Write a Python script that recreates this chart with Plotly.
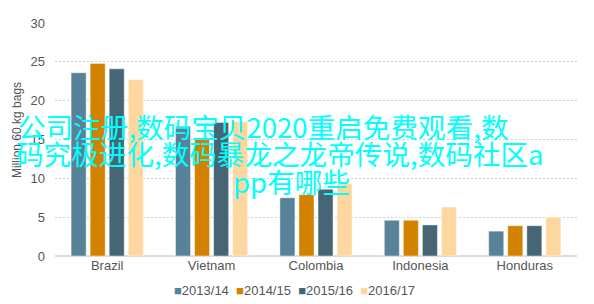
import plotly.graph_objects as go

categories = ["Brazil", "Vietnam", "Colombia", "Indonesia", "Honduras"]
series_names = ["2013/14", "2014/15", "2015/16", "2016/17"]
v_2013 = [23.6, 16.7, 7.5, 4.6, 3.2]
v_2014 = [24.8, 15.0, 7.9, 4.6, 3.9]
v_2015 = [24.1, 17.2, 8.6, 4.0, 3.9]
v_2016 = [22.7, 17.3, 9.3, 6.3, 5.0]
series_values = [v_2013, v_2014, v_2015, v_2016]
colors = ["#58829a", "#d38200", "#466575", "#fed7a0"]
y_ticks = [0, 5, 10, 15, 20, 25, 30]
y_title = "Million 60 kg bags"
overlay_lines = [
    "公司注册,数码宝贝2020重启免费观看,数",
    "码究极进化,数码暴龙之龙帝传说,数码社区a",
    "pp有哪些",
]

W, H = 594, 304
ML, MR, MT, MB = 55, 17, 23, 48

fig = go.Figure()
for name, vals, col in zip(series_names, series_values, colors):
    fig.add_trace(go.Bar(
        x=categories, y=vals, name=name,
        marker=dict(color=col, line=dict(color="rgba(255,255,255,0.45)", width=1)),
        showlegend=False,
    ))

fig.update_layout(
    width=W, height=H,
    margin=dict(l=ML, r=MR, t=MT, b=MB, pad=0),
    paper_bgcolor="white", plot_bgcolor="white",
    barmode="group", bargap=0.27, bargroupgap=0.21,
    font=dict(family="Liberation Sans, Arial, sans-serif", size=13, color="#555555"),
)
fig.update_xaxes(
    showgrid=False, showline=False, ticks="", zeroline=False,
    tickfont=dict(size=13, color="#555555"),
)
fig.update_yaxes(
    range=[0, 30], tickvals=y_ticks, ticks="", ticklabelstandoff=9,
    showgrid=True, gridcolor="#cfcfcf", gridwidth=1, griddash="2px,2px",
    zeroline=True, zerolinecolor="#dcdcdc", zerolinewidth=2,
    showline=False, tickfont=dict(size=13, color="#555555"),
)

# y-axis title
fig.add_annotation(
    text=y_title, xref="paper", yref="paper",
    x=(17 - ML) / (W - ML - MR), y=(H - MB - 130) / (H - MT - MB),
    xanchor="center", yanchor="middle", textangle=-90, showarrow=False,
    font=dict(size=12, color="#555555"),
)

# legend built as text
legend_parts = [
    f"<span style='color:{c}'>■</span>{n}" for n, c in zip(series_names, colors)
]
fig.add_annotation(
    text="  ".join(legend_parts), xref="paper", yref="paper",
    x=(294 - ML) / (W - ML - MR), y=(H - MB - 290) / (H - MT - MB),
    xanchor="center", yanchor="middle", showarrow=False,
    font=dict(size=13, color="#555555"),
)

# cyan overlay text
line_x = [16, 14, 231]
line_y = [126, 153, 181]
for txt, lx, ly in zip(overlay_lines, line_x, line_y):
    fig.add_annotation(
        text=txt, xref="paper", yref="paper",
        x=(lx - ML) / (W - ML - MR), y=(H - MB - ly) / (H - MT - MB),
        xanchor="left", yanchor="middle", showarrow=False,
        font=dict(family="Noto Sans CJK SC", size=27.6, color="#00ffff"),
    )

fig.write_html("out.html")
